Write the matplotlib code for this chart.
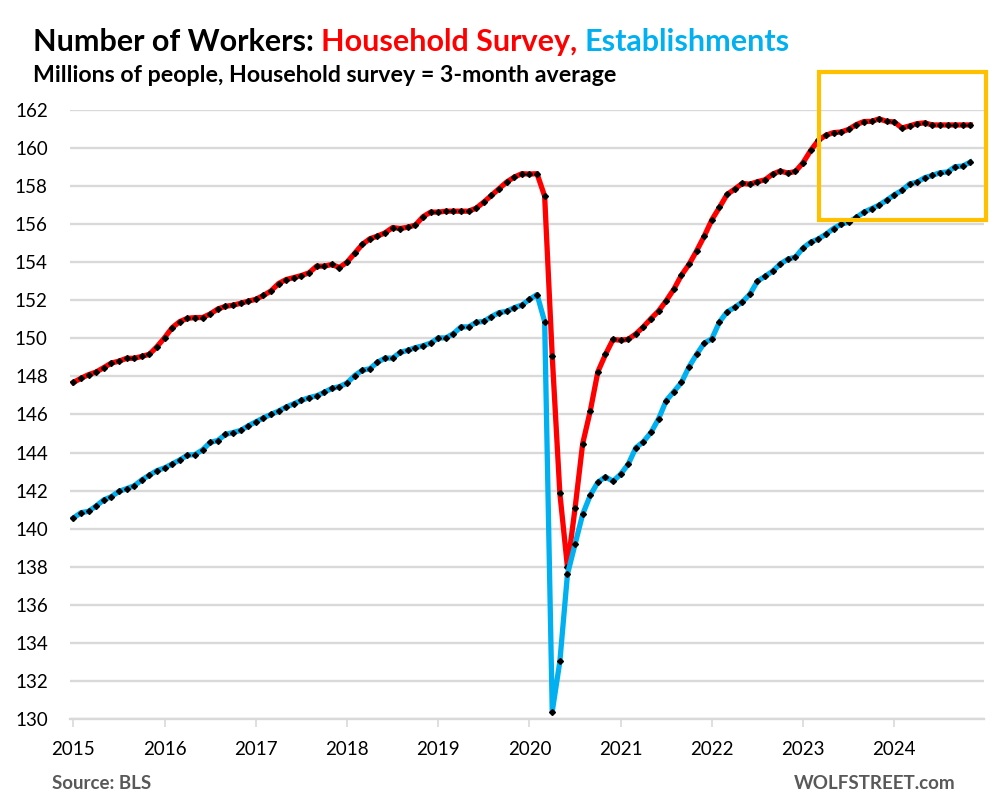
import matplotlib.pyplot as plt
import matplotlib.patches as patches
import numpy as np

plt.rcParams['font.family'] = ['Lato', 'DejaVu Sans']

# monthly, Jan 2015 .. Nov 2024, millions
household = [
    147.68, 147.90, 148.09, 148.23, 148.46, 148.70, 148.80, 148.95, 148.95, 149.05, 149.16, 149.56,
    150.03, 150.56, 150.88, 151.05, 151.09, 151.09, 151.28, 151.54, 151.68, 151.74, 151.84, 151.95,
    152.05, 152.25, 152.49, 152.88, 153.09, 153.19, 153.30, 153.44, 153.79, 153.79, 153.88, 153.72,
    154.00, 154.46, 154.93, 155.23, 155.37, 155.54, 155.82, 155.77, 155.84, 155.95, 156.39, 156.63,
    156.63, 156.68, 156.68, 156.68, 156.68, 156.84, 157.16, 157.51, 157.86, 158.21, 158.47, 158.65,
    158.63, 158.65, 157.47, 149.05, 141.86, 137.98, 141.07, 144.46, 146.18, 148.24, 149.15, 149.94,
    149.90, 149.95, 150.23, 150.61, 151.04, 151.44, 151.98, 152.58, 153.32, 153.89, 154.60, 155.37,
    156.23, 156.88, 157.56, 157.84, 158.14, 158.10, 158.23, 158.33, 158.63, 158.79, 158.68, 158.77,
    159.23, 159.87, 160.40, 160.67, 160.81, 160.84, 160.98, 161.23, 161.39, 161.40, 161.53, 161.40,
    161.37, 161.05, 161.16, 161.28, 161.32, 161.21, 161.21, 161.21, 161.21, 161.21, 161.21,
]
establishments = [
    140.56, 140.84, 140.91, 141.19, 141.51, 141.68, 141.96, 142.10, 142.25, 142.56, 142.81, 143.05,
    143.19, 143.40, 143.61, 143.86, 143.89, 144.14, 144.53, 144.63, 144.95, 145.05, 145.16, 145.40,
    145.61, 145.82, 146.00, 146.18, 146.39, 146.56, 146.74, 146.88, 146.98, 147.16, 147.37, 147.46,
    147.65, 148.04, 148.32, 148.40, 148.74, 148.96, 148.96, 149.26, 149.37, 149.51, 149.61, 149.75,
    150.02, 150.02, 150.25, 150.60, 150.60, 150.84, 150.89, 151.14, 151.35, 151.42, 151.61, 151.75,
    152.04, 152.30, 150.88, 130.39, 133.02, 137.60, 139.18, 140.75, 141.75, 142.44, 142.72, 142.49,
    142.86, 143.39, 144.25, 144.57, 145.06, 145.78, 146.73, 147.20, 147.68, 148.51, 149.16, 149.75,
    149.98, 150.86, 151.39, 151.63, 151.91, 152.32, 153.00, 153.26, 153.53, 153.91, 154.16, 154.27,
    154.75, 155.05, 155.22, 155.47, 155.77, 156.00, 156.10, 156.35, 156.63, 156.81, 157.00, 157.26,
    157.54, 157.77, 158.11, 158.21, 158.44, 158.56, 158.70, 158.74, 159.02, 159.05, 159.26,
]
years = ['2015', '2016', '2017', '2018', '2019', '2020', '2021', '2022', '2023', '2024']

RED = '#FF0000'
BLUE = '#00B0F0'
GRID = '#D9D9D9'
GREY = '#595959'

fig = plt.figure(figsize=(9.99, 8.06), dpi=100)
ax = fig.add_axes([0.070, 0.108, 0.915, 0.7556])

months = np.arange(len(household))
ax.plot(months, household, color=RED, lw=3.8, solid_joinstyle='round',
        marker='D', ms=3.0, mfc='black', mec='black', zorder=3)
ax.plot(months, establishments, color=BLUE, lw=3.8, solid_joinstyle='round',
        marker='D', ms=3.0, mfc='black', mec='black', zorder=3)

ax.set_ylim(130, 162)
ax.set_yticks(np.arange(130, 163, 2))
ax.set_xlim(-0.45, 119.8)
ax.set_xticks(np.arange(len(years)) * 12)
ax.set_xticklabels(years)

ax.grid(axis='y', color=GRID, lw=1.7)
ax.set_axisbelow(True)
for s in ['top', 'right', 'left']:
    ax.spines[s].set_visible(False)
ax.spines['bottom'].set_color(GRID)
ax.spines['bottom'].set_linewidth(1.7)
ax.tick_params(axis='y', length=0, pad=16, labelsize=13.5)
ax.tick_params(axis='x', length=6, width=1.2, color=GRID, pad=10, labelsize=13.5)

# multi-coloured title
fig.canvas.draw()
r = fig.canvas.get_renderer()
x = 33 / 999
for txt, col in [('Number of Workers: ', 'black'), ('Household Survey, ', RED),
                 ('Establishments', BLUE)]:
    t = fig.text(x, 1 - 51 / 806, txt, color=col, fontsize=22, fontweight='bold', va='baseline')
    bb = t.get_window_extent(renderer=r)
    x += bb.width / fig.bbox.width
fig.text(33 / 999, 1 - 82 / 806, 'Millions of people, Household survey = 3-month average',
         fontsize=16.7, fontweight='bold', va='baseline')

fig.text(52 / 999, 1 - 789 / 806, 'Source: BLS', color=GREY, fontsize=13.5,
         fontweight='bold', va='baseline')
fig.text(955 / 999, 1 - 789 / 806, 'WOLFSTREET.com', color=GREY, fontsize=13.5,
         fontweight='bold', va='baseline', ha='right')

box = patches.Rectangle((819 / 999, 1 - 220 / 806), 167 / 999, 148 / 806,
                        transform=fig.transFigure, fill=False, ec='#FFC000', lw=3)
fig.add_artist(box)

fig.savefig('out.png', dpi=100)
